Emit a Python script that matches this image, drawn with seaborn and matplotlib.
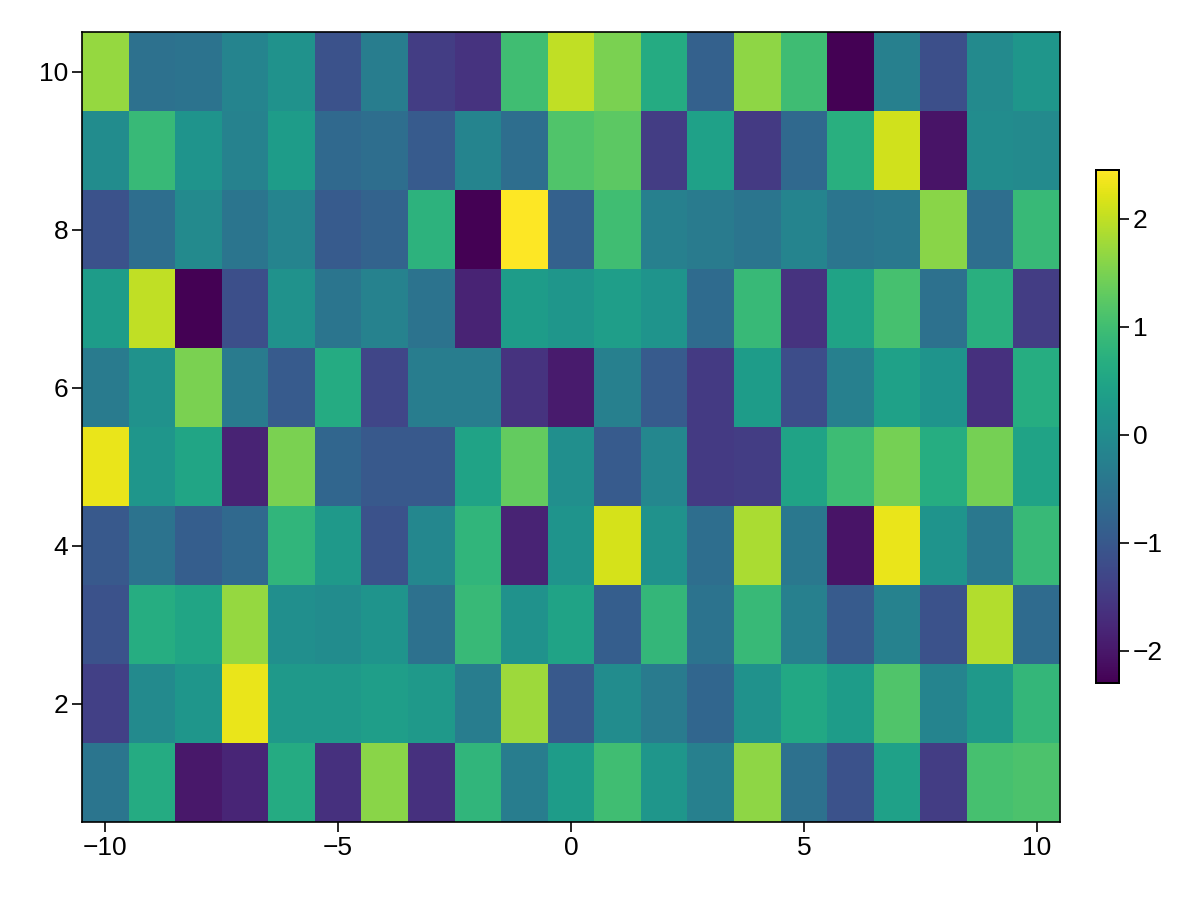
import numpy as np
import pandas as pd
import matplotlib
matplotlib.use("Agg")
import matplotlib.pyplot as plt
import seaborn as sns

# grid coordinates
xs = list(range(-10, 11))
ys = list(range(1, 11))

# cell values, one list per y row, x = -10 .. 10
row_1 = [-0.45, 0.6, -2.0, -1.8, 0.6, -1.65, 1.6, -1.65, 0.8, -0.3, 0.3, 1.0, 0.2, -0.25, 1.65, -0.55, -1.1, 0.4, -1.45, 1.05, 1.1]
row_2 = [-1.4, -0.05, 0.2, 2.3, 0.25, 0.25, 0.35, 0.25, -0.3, 1.75, -1.0, 0.0, -0.35, -0.75, 0.1, 0.55, 0.3, 1.15, -0.15, 0.25, 0.85]
row_3 = [-1.1, 0.65, 0.5, 1.7, 0.05, 0.0, 0.15, -0.55, 0.9, 0.1, 0.45, -0.9, 0.85, -0.5, 0.9, -0.25, -0.95, -0.2, -1.1, 1.9, -0.65]
row_4 = [-1.0, -0.5, -0.9, -0.7, 0.8, 0.25, -1.1, -0.1, 0.8, -1.85, 0.15, 2.15, 0.1, -0.6, 1.85, -0.4, -2.05, 2.3, 0.15, -0.4, 0.9]
row_5 = [2.3, 0.2, 0.5, -1.85, 1.5, -0.75, -1.0, -1.0, 0.45, 1.3, 0.05, -0.95, -0.1, -1.5, -1.45, 0.45, 0.95, 1.45, 0.65, 1.45, 0.45]
row_6 = [-0.35, 0.1, 1.5, -0.35, -0.95, 0.6, -1.3, -0.3, -0.3, -1.6, -1.95, -0.25, -0.95, -1.5, 0.3, -1.2, -0.25, 0.4, 0.15, -1.65, 0.65]
row_7 = [0.3, 2.0, -2.3, -1.15, 0.1, -0.45, -0.2, -0.5, -1.85, 0.3, 0.2, 0.35, 0.15, -0.65, 0.9, -1.6, 0.45, 1.05, -0.55, 0.7, -1.45]
row_8 = [-1.1, -0.6, -0.05, -0.45, -0.15, -0.95, -0.8, 0.75, -2.3, 2.45, -0.85, 1.0, -0.25, -0.35, -0.45, -0.15, -0.45, -0.4, 1.6, -0.6, 0.9]
row_9 = [0.0, 0.9, 0.15, -0.2, 0.3, -0.7, -0.6, -0.95, -0.15, -0.6, 1.15, 1.25, -1.45, 0.4, -1.5, -0.7, 0.7, 2.1, -2.05, 0.0, -0.05]
row_10 = [1.7, -0.55, -0.5, -0.15, 0.1, -1.1, -0.3, -1.45, -1.6, 1.0, 2.0, 1.5, 0.6, -0.85, 1.65, 0.98, -2.3, -0.25, -1.15, -0.05, 0.2]

x_ticks = [-10, -5, 0, 5, 10]
y_ticks = [2, 4, 6, 8, 10]
cbar_ticks = [-2, -1, 0, 1, 2]

rows = [row_1, row_2, row_3, row_4, row_5, row_6, row_7, row_8, row_9, row_10]
df = pd.DataFrame(rows, index=ys, columns=xs)

sns.set_style("white")
plt.rcParams["font.family"] = ["Liberation Sans", "DejaVu Sans"]

fig = plt.figure(figsize=(12, 9), dpi=100)
ax = fig.add_axes([82 / 1200, 1 - 822 / 900, 978 / 1200, 790 / 900])
cax = fig.add_axes([1096 / 1200, 1 - 683 / 900, 23 / 1200, 513 / 900])

sns.heatmap(df, cmap="viridis", ax=ax, cbar_ax=cax, square=False,
            xticklabels=False, yticklabels=False)
ax.invert_yaxis()

# ticks at cell centres of the chosen values
ax.set_xticks([xs.index(v) + 0.5 for v in x_ticks])
ax.set_xticklabels([str(v).replace("-", "\u2212") for v in x_ticks])
ax.set_yticks([ys.index(v) + 0.5 for v in y_ticks])
ax.set_yticklabels([str(v) for v in y_ticks], rotation=0)
ax.set_xlabel("")
ax.set_ylabel("")
ax.tick_params(axis="both", which="major", labelsize=19, length=7, width=1.2,
               color="black", labelcolor="black", direction="out",
               bottom=True, left=True, pad=3)

for s in ax.spines.values():
    s.set_visible(True)
    s.set_color("black")
    s.set_linewidth(1.2)

cax.set_yticks(cbar_ticks)
cax.set_yticklabels([str(v).replace("-", "\u2212") for v in cbar_ticks])
cax.tick_params(labelsize=19, length=7, width=1.2, color="black",
                labelcolor="black", direction="out", right=True, pad=3)
for s in cax.spines.values():
    s.set_visible(True)
    s.set_color("black")
    s.set_linewidth(1.4)

fig.savefig("out.png", dpi=100)
